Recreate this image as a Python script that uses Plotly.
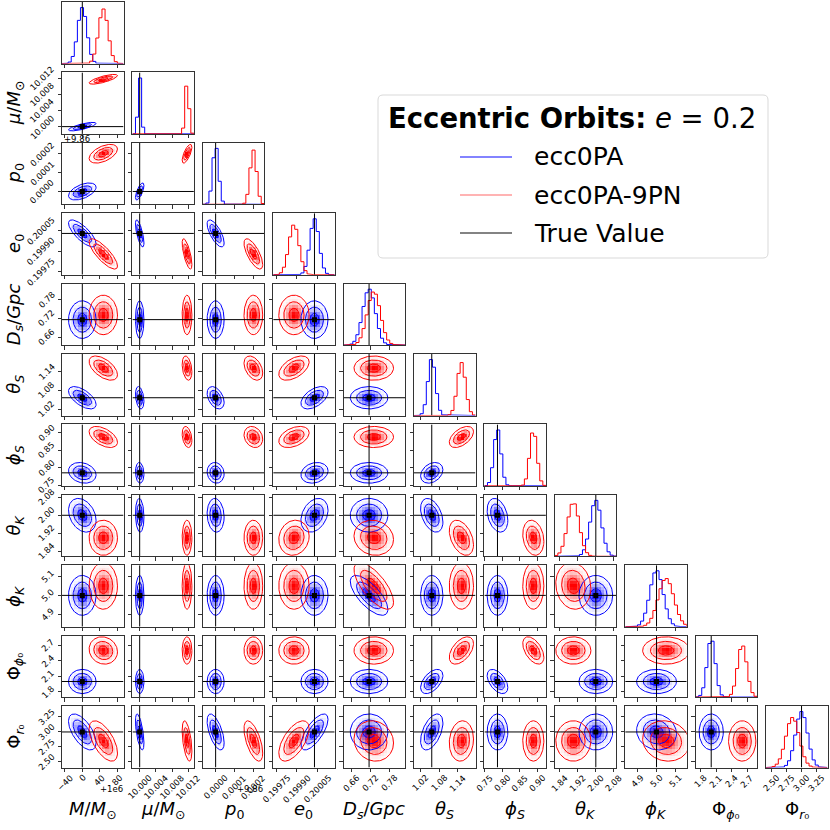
import math
import numpy as np
import plotly.graph_objects as go

# ---------------- data ----------------
labels = ["<i>M</i>/<i>M</i><sub>⊙</sub>", "<i>μ</i>/<i>M</i><sub>⊙</sub>", "<i>p</i><sub>0</sub>",
          "<i>e</i><sub>0</sub>", "<i>D</i><sub><i>s</i></sub>/<i>Gpc</i>", "<i>θ</i><sub><i>S</i></sub>",
          "<i>ϕ</i><sub><i>S</i></sub>", "<i>θ</i><sub><i>K</i></sub>", "<i>ϕ</i><sub><i>K</i></sub>",
          "Φ<sub><i>ϕ</i>₀</sub>", "Φ<sub><i>r</i>₀</sub>"]

truths = [1.0e6, 10.0, 9.86, 0.20003, 0.716, 1.057, 0.786, 2.0, 5.0, 2.0, 3.0]
offsets = [1.0e6, 0, 9.86, 0, 0, 0, 0, 0, 0, 0, 0]
range_lo = [1.0e6 - 46.4, 9.9982, 9.86 - 0.000068, 0.199728, 0.6347, 1.0007, 0.7488, 1.8175, 4.835, 1.698, 2.4076]
range_hi = [1.0e6 + 94.2, 10.0134, 9.86 + 0.000258, 0.200178, 0.831, 1.1957, 0.9238, 2.0911, 5.159, 2.888, 3.4326]

# ecc0PA (blue)
blue_mean = [1.0e6, 10.0, 9.86, 0.20003, 0.716, 1.057, 0.786, 2.0, 5.0, 2.0, 3.0]
blue_sd = [10.5, 0.00035, 0.000015, 0.000033, 0.020, 0.0118, 0.0098, 0.025, 0.035, 0.078, 0.100]
# ecc0PA-9PN (red)
red_mean = [1.0e6 + 48, 10.0117, 9.8602, 0.19988, 0.731, 1.151, 0.888, 1.90, 5.05, 2.60, 2.85]
red_sd = [10.8, 0.00040, 0.0000165, 0.000037, 0.021, 0.0128, 0.0100, 0.026, 0.041, 0.088, 0.112]

# pairwise correlations, lower triangle, row i lists columns 0..i-1
blue_corr = [
    [],
    [0.75],
    [0.5, 0.7],
    [-0.76, -0.7, -0.7],
    [0, 0, 0, 0],
    [-0.6, -0.3, -0.4, 0.5, 0],
    [-0.2, -0.1, -0.1, 0.2, 0, 0.3],
    [-0.3, -0.1, -0.1, 0.3, 0, -0.4, -0.3],
    [0, 0, 0, 0, -0.7, 0, 0, 0],
    [0, 0, 0, 0, 0, 0.5, -0.5, 0, 0],
    [-0.6, -0.6, -0.6, 0.7, 0, 0.5, 0, 0, -0.1, 0],
]
red_corr = [
    [],
    [0.75],
    [0.5, 0.7],
    [-0.8, -0.7, -0.7],
    [0, 0, 0, 0],
    [-0.55, -0.3, -0.4, 0.5, 0],
    [-0.5, -0.3, -0.2, 0.4, 0, 0.5],
    [0, 0, 0, 0.1, -0.1, -0.4, -0.2],
    [0, 0, 0, 0, -0.7, 0, 0, -0.1],
    [-0.1, 0, 0, 0, 0, 0.5, -0.5, 0, 0],
    [-0.6, -0.5, -0.6, 0.6, -0.1, 0.1, 0, 0, -0.1, 0],
]

tick_vals = [[1.0e6 - 40, 1.0e6, 1.0e6 + 40, 1.0e6 + 80],
             [10.000, 10.004, 10.008, 10.012],
             [9.86, 9.8601, 9.8602],
             [0.19975, 0.19990, 0.20005],
             [0.66, 0.72, 0.78],
             [1.02, 1.08, 1.14],
             [0.75, 0.80, 0.85, 0.90],
             [1.84, 1.92, 2.00, 2.08],
             [4.9, 5.0, 5.1],
             [1.8, 2.1, 2.4, 2.7],
             [2.50, 2.75, 3.00, 3.25]]
tick_text = [["−40", "0", "40", "80"],
             ["10.000", "10.004", "10.008", "10.012"],
             ["0.0000", "0.0001", "0.0002"],
             ["0.19975", "0.19990", "0.20005"],
             ["0.66", "0.72", "0.78"],
             ["1.02", "1.08", "1.14"],
             ["0.75", "0.80", "0.85", "0.90"],
             ["1.84", "1.92", "2.00", "2.08"],
             ["4.9", "5.0", "5.1"],
             ["1.8", "2.1", "2.4", "2.7"],
             ["2.50", "2.75", "3.00", "3.25"]]

series_names = ["ecc0PA", "ecc0PA-9PN", "True Value"]
title_text = "<b>Eccentric Orbits:</b> <i>e</i> = 0.2"
contour_sigmas = [1, 2, 3]
n_samples = 10000
n_bins = 20

# ---------------- layout geometry (pixels) ----------------
W = 830
L0, T0, S, P = 62.0, 2.0, 61.5, 70.4
FONT = "DejaVu Sans"
BLUE, RED = "#0000ff", "#ff0000"
TICKFONT = dict(family=FONT, size=8.5, color="black")


def xdom(c):
    return [(L0 + P * c) / W, (L0 + P * c + S) / W]


def ydom(r):
    return [1 - (T0 + P * r + S) / W, 1 - (T0 + P * r) / W]


def px_x(v):
    return v / W


def px_y(v):
    return 1 - v / W


npar = len(labels)
plo = [range_lo[k] - offsets[k] for k in range(npar)]
phi = [range_hi[k] - offsets[k] for k in range(npar)]
ptruth = [truths[k] - offsets[k] for k in range(npar)]
pticks = [[t - offsets[k] for t in tick_vals[k]] for k in range(npar)]
series = [
    ([blue_mean[k] - offsets[k] for k in range(npar)], blue_sd, blue_corr, BLUE, "0,0,255"),
    ([red_mean[k] - offsets[k] for k in range(npar)], red_sd, red_corr, RED, "255,0,0"),
]


def ncdf(x, m, s):
    return np.array([0.5 * (1 + math.erf((xx - m) / (s * math.sqrt(2)))) for xx in x])


def ellipse(mx, my, sx, sy, rho, r, n=100):
    t = np.linspace(0, 2 * np.pi, n)
    u, v = r * np.cos(t), r * np.sin(t)
    return mx + sx * u, my + sy * (rho * u + math.sqrt(1 - rho ** 2) * v)


fig = go.Figure()
layout = {}
annotations = []
axis_common = dict(showgrid=False, zeroline=False, showline=True, mirror=True, automargin=False,
                   linecolor="#333333", linewidth=0.9, ticks="outside", ticklen=3.5,
                   tickwidth=0.9, tickcolor="#333333", showticklabels=False)

k = 0
for i in range(npar):
    for j in range(i + 1):
        k += 1
        xa = "x" if k == 1 else f"x{k}"
        ya = "y" if k == 1 else f"y{k}"
        xkey = "xaxis" if k == 1 else f"xaxis{k}"
        ykey = "yaxis" if k == 1 else f"yaxis{k}"
        xaxis = dict(axis_common, domain=xdom(j), anchor=ya, range=[plo[j], phi[j]],
                     tickvals=pticks[j])
        if i == npar - 1:
            # rotated tick labels centred under each tick (matplotlib style)
            for tv, tt in zip(pticks[j], tick_text[j]):
                annotations.append(dict(x=tv, xref=xa, y=px_y(T0 + P * i + S + 4), yref="paper",
                                        text=tt, textangle=-45, showarrow=False, xanchor="center",
                                        yanchor="top", font=TICKFONT, borderpad=0))
        if i == j:
            # 1D histogram
            edges = np.linspace(plo[j], phi[j], n_bins + 1)
            ymax = None
            for (mean, sd, corr, col, rgb) in series:
                cdf = ncdf(edges, mean[j], sd[j])
                counts = n_samples * (cdf[1:] - cdf[:-1])
                if ymax is None:
                    ymax = 1.1 * counts.max()
                xs = np.repeat(edges, 2)
                ys = np.concatenate([[0], np.repeat(counts, 2), [0]])
                fig.add_trace(go.Scatter(x=xs, y=ys, mode="lines", line=dict(color=col, width=1),
                                         xaxis=xa, yaxis=ya, hoverinfo="skip", showlegend=False))
            fig.add_trace(go.Scatter(x=[ptruth[j], ptruth[j]], y=[0, ymax], mode="lines",
                                     line=dict(color="black", width=1), xaxis=xa, yaxis=ya,
                                     hoverinfo="skip", showlegend=False))
            yaxis = dict(axis_common, domain=ydom(i), anchor=xa, range=[0, ymax], ticks="")
        else:
            xe = np.linspace(plo[j], phi[j], n_bins + 1)
            ye = np.linspace(plo[i], phi[i], n_bins + 1)
            xc = 0.5 * (xe[1:] + xe[:-1])
            yc = 0.5 * (ye[1:] + ye[:-1])
            XX, YY = np.meshgrid(xc, yc)
            # density shading
            for (mean, sd, corr, col, rgb) in series:
                rho = corr[i][j]
                u = (XX - mean[j]) / sd[j]
                v = (YY - mean[i]) / sd[i]
                q = (u ** 2 - 2 * rho * u * v + v ** 2) / (1 - rho ** 2)
                Z = np.exp(-0.5 * q)
                Z = np.where(q > 9, 0, Z)
                Z = Z / Z.max() if Z.max() > 0 else Z
                fig.add_trace(go.Heatmap(x=xc, y=yc, z=Z, zmin=0, zmax=1, showscale=False,
                                         colorscale=[[0, f"rgba({rgb},0)"], [1, f"rgba({rgb},1)"]],
                                         hoverinfo="skip", xaxis=xa, yaxis=ya))
            # contour lines
            for (mean, sd, corr, col, rgb) in series:
                rho = corr[i][j]
                xs, ys = [], []
                for r in contour_sigmas:
                    ex, ey = ellipse(mean[j], mean[i], sd[j], sd[i], rho, r)
                    xs += list(ex) + [None]
                    ys += list(ey) + [None]
                fig.add_trace(go.Scatter(x=xs, y=ys, mode="lines", line=dict(color=col, width=1),
                                         xaxis=xa, yaxis=ya, hoverinfo="skip", showlegend=False))
            # truth lines and marker
            fig.add_trace(go.Scatter(x=[ptruth[j], ptruth[j], None, plo[j], phi[j]],
                                     y=[plo[i], phi[i], None, ptruth[i], ptruth[i]], mode="lines",
                                     line=dict(color="black", width=1), xaxis=xa, yaxis=ya,
                                     hoverinfo="skip", showlegend=False))
            fig.add_trace(go.Scatter(x=[ptruth[j]], y=[ptruth[i]], mode="markers",
                                     marker=dict(symbol="square", size=5, color="black"),
                                     xaxis=xa, yaxis=ya, hoverinfo="skip", showlegend=False))
            yaxis = dict(axis_common, domain=ydom(i), anchor=xa, range=[plo[i], phi[i]],
                         tickvals=pticks[i])
            if j == 0:
                for tv, tt in zip(pticks[i], tick_text[i]):
                    annotations.append(dict(x=px_x(L0 - 4), xref="paper", y=tv, yref=ya,
                                            text=tt, textangle=-45, showarrow=False, xanchor="right",
                                            yanchor="middle", font=TICKFONT, borderpad=0))
        layout[xkey] = xaxis
        layout[ykey] = yaxis

# axis labels
for c in range(npar):
    annotations.append(dict(x=px_x(L0 + P * c + S / 2), y=px_y(810), xref="paper", yref="paper",
                            text=labels[c], showarrow=False, xanchor="center", yanchor="middle",
                            font=dict(family=FONT, size=18, color="black")))
for r in range(1, npar):
    annotations.append(dict(x=px_x(15), y=px_y(T0 + P * r + S / 2), xref="paper", yref="paper",
                            text=labels[r], showarrow=False, textangle=-90, xanchor="center",
                            yanchor="middle", font=dict(family=FONT, size=18, color="black")))
# offset texts
annotations.append(dict(x=px_x(L0 + S + 1), y=px_y(789), xref="paper", yref="paper", text="+1e6",
                        showarrow=False, xanchor="right", yanchor="middle", font=TICKFONT))
annotations.append(dict(x=px_x(L0 + 2 * P + S + 1), y=px_y(789), xref="paper", yref="paper", text="+9.86",
                        showarrow=False, xanchor="right", yanchor="middle", font=TICKFONT))
annotations.append(dict(x=px_x(L0), y=px_y(138.5), xref="paper", yref="paper", text="+9.86",
                        showarrow=False, xanchor="left", yanchor="middle", font=TICKFONT))

# legend box
bx0, by0, bx1, by1, rr = 378, 95, 768, 258, 5
path = (f"M {px_x(bx0 + rr)} {px_y(by0)} L {px_x(bx1 - rr)} {px_y(by0)} "
        f"Q {px_x(bx1)} {px_y(by0)} {px_x(bx1)} {px_y(by0 + rr)} "
        f"L {px_x(bx1)} {px_y(by1 - rr)} Q {px_x(bx1)} {px_y(by1)} {px_x(bx1 - rr)} {px_y(by1)} "
        f"L {px_x(bx0 + rr)} {px_y(by1)} Q {px_x(bx0)} {px_y(by1)} {px_x(bx0)} {px_y(by1 - rr)} "
        f"L {px_x(bx0)} {px_y(by0 + rr)} Q {px_x(bx0)} {px_y(by0)} {px_x(bx0 + rr)} {px_y(by0)} Z")
shapes = [dict(type="path", xref="paper", yref="paper", path=path,
               line=dict(color="#d9d9d9", width=1), fillcolor="rgba(255,255,255,0.85)")]
annotations.append(dict(x=px_x(572), y=px_y(118), xref="paper", yref="paper", text=title_text,
                        showarrow=False, xanchor="center", yanchor="middle",
                        font=dict(family=FONT, size=27.5, color="black")))
leg_colors = ["rgba(0,0,255,0.65)", "rgba(255,0,0,0.4)", "rgba(0,0,0,0.65)"]
leg_y = [157, 195, 233]
for name, colr, yy in zip(series_names, leg_colors, leg_y):
    shapes.append(dict(type="line", xref="paper", yref="paper", x0=px_x(460), x1=px_x(512),
                       y0=px_y(yy), y1=px_y(yy), line=dict(color=colr, width=1.5)))
    annotations.append(dict(x=px_x(532), y=px_y(yy), xref="paper", yref="paper", text=name,
                            showarrow=False, xanchor="left", yanchor="middle",
                            font=dict(family=FONT, size=25, color="black")))

fig.update_layout(width=W, height=W, margin=dict(l=0, r=0, t=0, b=0, autoexpand=False),
                  paper_bgcolor="white", plot_bgcolor="white", showlegend=False,
                  annotations=annotations, shapes=shapes, **layout)

fig.write_html("out.html", config={"displayModeBar": False},
               post_script="document.body.style.margin='0px';")
